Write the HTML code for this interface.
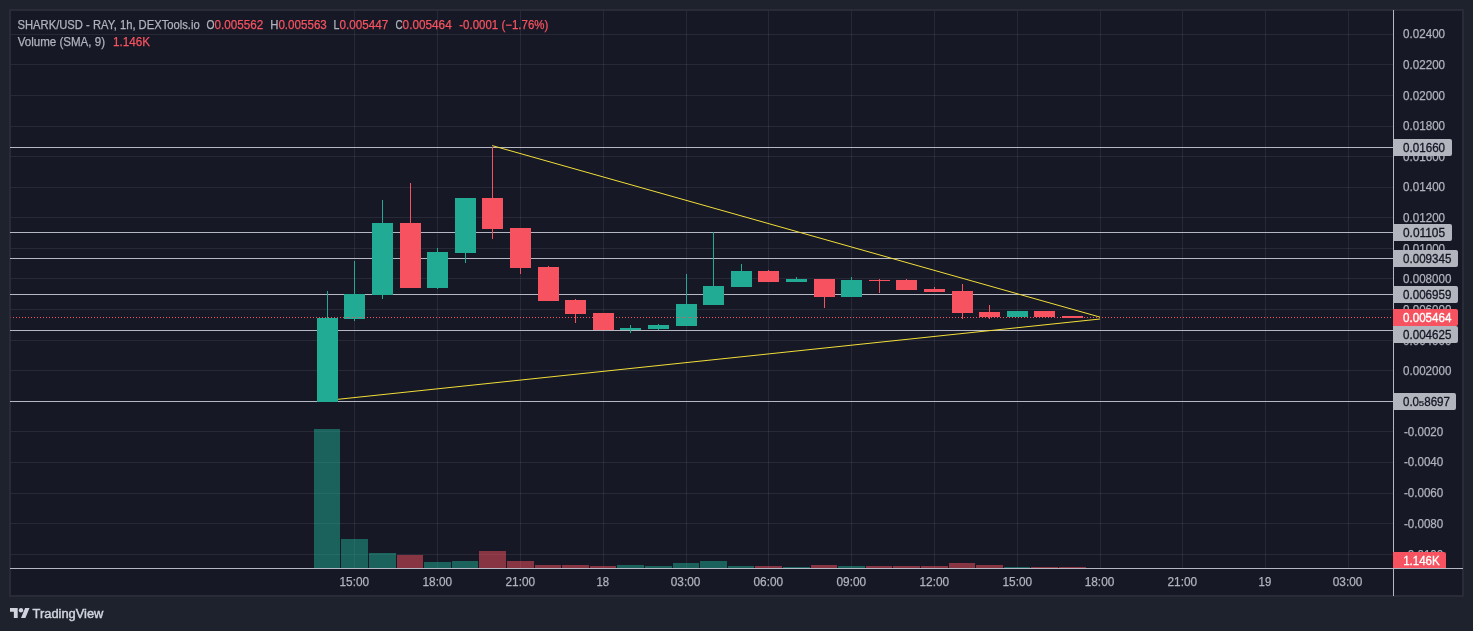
<!DOCTYPE html>
<html><head><meta charset="utf-8"><title>SHARK/USD chart</title>
<style>
html,body{margin:0;padding:0;background:#1e222d;}
body{width:1473px;height:631px;overflow:hidden;position:relative;font-family:"Liberation Sans",sans-serif;}
svg{position:absolute;left:0;top:0;display:block;will-change:transform;}
text{font-family:"Liberation Sans",sans-serif;font-size:12px;}
.t text{stroke:#b0b3bc;stroke-width:0.25px;}
.r{stroke:#f7525f;stroke-width:0.25px;}
.c{shape-rendering:crispEdges;}
</style></head><body>
<svg width="1473" height="631" viewBox="0 0 1473 631">
<g class="c">
<rect x="0" y="0" width="1473" height="631" fill="#1e222d"/>
<rect x="9" y="9" width="1455" height="588" fill="#292b36"/>
<rect x="11" y="11" width="1451" height="584" fill="#161925"/>
<rect x="354" y="11" width="1" height="557" fill="rgba(172,165,195,0.115)"/>
<rect x="437" y="11" width="1" height="557" fill="rgba(172,165,195,0.115)"/>
<rect x="520" y="11" width="1" height="557" fill="rgba(172,165,195,0.115)"/>
<rect x="603" y="11" width="1" height="557" fill="rgba(172,165,195,0.115)"/>
<rect x="686" y="11" width="1" height="557" fill="rgba(172,165,195,0.115)"/>
<rect x="768" y="11" width="1" height="557" fill="rgba(172,165,195,0.115)"/>
<rect x="851" y="11" width="1" height="557" fill="rgba(172,165,195,0.115)"/>
<rect x="934" y="11" width="1" height="557" fill="rgba(172,165,195,0.115)"/>
<rect x="1017" y="11" width="1" height="557" fill="rgba(172,165,195,0.115)"/>
<rect x="1100" y="11" width="1" height="557" fill="rgba(172,165,195,0.115)"/>
<rect x="1182" y="11" width="1" height="557" fill="rgba(172,165,195,0.115)"/>
<rect x="1265" y="11" width="1" height="557" fill="rgba(172,165,195,0.115)"/>
<rect x="1348" y="11" width="1" height="557" fill="rgba(172,165,195,0.115)"/>
<rect x="11" y="34" width="1382" height="1" fill="rgba(172,165,195,0.115)"/>
<rect x="11" y="64" width="1382" height="1" fill="rgba(172,165,195,0.115)"/>
<rect x="11" y="95" width="1382" height="1" fill="rgba(172,165,195,0.115)"/>
<rect x="11" y="126" width="1382" height="1" fill="rgba(172,165,195,0.115)"/>
<rect x="11" y="156" width="1382" height="1" fill="rgba(172,165,195,0.115)"/>
<rect x="11" y="187" width="1382" height="1" fill="rgba(172,165,195,0.115)"/>
<rect x="11" y="217" width="1382" height="1" fill="rgba(172,165,195,0.115)"/>
<rect x="11" y="248" width="1382" height="1" fill="rgba(172,165,195,0.115)"/>
<rect x="11" y="278" width="1382" height="1" fill="rgba(172,165,195,0.115)"/>
<rect x="11" y="309" width="1382" height="1" fill="rgba(172,165,195,0.115)"/>
<rect x="11" y="340" width="1382" height="1" fill="rgba(172,165,195,0.115)"/>
<rect x="11" y="370" width="1382" height="1" fill="rgba(172,165,195,0.115)"/>
<rect x="11" y="401" width="1382" height="1" fill="rgba(172,165,195,0.115)"/>
<rect x="11" y="431" width="1382" height="1" fill="rgba(172,165,195,0.115)"/>
<rect x="11" y="462" width="1382" height="1" fill="rgba(172,165,195,0.115)"/>
<rect x="11" y="493" width="1382" height="1" fill="rgba(172,165,195,0.115)"/>
<rect x="11" y="523" width="1382" height="1" fill="rgba(172,165,195,0.115)"/>
<rect x="11" y="554" width="1382" height="1" fill="rgba(172,165,195,0.115)"/>
<rect x="314" y="429" width="26" height="139" fill="rgba(34,171,148,0.5)"/>
<rect x="341" y="539" width="27" height="29" fill="rgba(34,171,148,0.5)"/>
<rect x="369" y="553" width="27" height="15" fill="rgba(34,171,148,0.5)"/>
<rect x="397" y="555" width="26" height="13" fill="rgba(247,82,95,0.5)"/>
<rect x="424" y="562" width="27" height="6" fill="rgba(34,171,148,0.5)"/>
<rect x="452" y="561" width="26" height="7" fill="rgba(34,171,148,0.5)"/>
<rect x="479" y="551" width="27" height="17" fill="rgba(247,82,95,0.5)"/>
<rect x="507" y="561" width="27" height="7" fill="rgba(247,82,95,0.5)"/>
<rect x="535" y="565" width="26" height="3" fill="rgba(247,82,95,0.5)"/>
<rect x="562" y="565" width="27" height="3" fill="rgba(247,82,95,0.5)"/>
<rect x="590" y="566" width="26" height="2" fill="rgba(247,82,95,0.5)"/>
<rect x="617" y="565" width="27" height="3" fill="rgba(34,171,148,0.5)"/>
<rect x="645" y="566" width="27" height="2" fill="rgba(34,171,148,0.5)"/>
<rect x="673" y="563" width="26" height="5" fill="rgba(34,171,148,0.5)"/>
<rect x="700" y="561" width="27" height="7" fill="rgba(34,171,148,0.5)"/>
<rect x="728" y="566" width="26" height="2" fill="rgba(34,171,148,0.5)"/>
<rect x="755" y="566" width="27" height="2" fill="rgba(247,82,95,0.5)"/>
<rect x="783" y="567" width="27" height="1" fill="rgba(34,171,148,0.5)"/>
<rect x="811" y="565" width="26" height="3" fill="rgba(247,82,95,0.5)"/>
<rect x="838" y="566" width="27" height="2" fill="rgba(34,171,148,0.5)"/>
<rect x="866" y="566" width="26" height="2" fill="rgba(247,82,95,0.5)"/>
<rect x="893" y="566" width="27" height="2" fill="rgba(247,82,95,0.5)"/>
<rect x="921" y="566" width="27" height="2" fill="rgba(247,82,95,0.5)"/>
<rect x="949" y="563" width="26" height="5" fill="rgba(247,82,95,0.5)"/>
<rect x="976" y="565" width="27" height="3" fill="rgba(247,82,95,0.5)"/>
<rect x="1004" y="567" width="26" height="1" fill="rgba(34,171,148,0.5)"/>
<rect x="1031" y="567" width="27" height="1" fill="rgba(247,82,95,0.5)"/>
<rect x="1059" y="567" width="27" height="1" fill="rgba(247,82,95,0.5)"/>
<rect x="10" y="147" width="1383" height="1" fill="#b5b8c2"/>
<rect x="10" y="232" width="1383" height="1" fill="#b5b8c2"/>
<rect x="10" y="258" width="1383" height="1" fill="#b5b8c2"/>
<rect x="10" y="294" width="1383" height="1" fill="#b5b8c2"/>
<rect x="10" y="330" width="1383" height="1" fill="#b5b8c2"/>
<rect x="10" y="401" width="1383" height="1" fill="#b5b8c2"/>
<rect x="327" y="291" width="1" height="111" fill="#22ab94"/>
<rect x="317" y="318" width="21" height="84" fill="#22ab94"/>
<rect x="354" y="261" width="1" height="60" fill="#22ab94"/>
<rect x="344" y="294" width="21" height="25" fill="#22ab94"/>
<rect x="382" y="200" width="1" height="99" fill="#22ab94"/>
<rect x="372" y="223" width="21" height="72" fill="#22ab94"/>
<rect x="410" y="183" width="1" height="105" fill="#f7525f"/>
<rect x="400" y="223" width="21" height="65" fill="#f7525f"/>
<rect x="437" y="248" width="1" height="41" fill="#22ab94"/>
<rect x="427" y="252" width="21" height="36" fill="#22ab94"/>
<rect x="465" y="198" width="1" height="65" fill="#22ab94"/>
<rect x="455" y="198" width="21" height="55" fill="#22ab94"/>
<rect x="492" y="147" width="1" height="92" fill="#f7525f"/>
<rect x="482" y="198" width="21" height="31" fill="#f7525f"/>
<rect x="520" y="228" width="1" height="46" fill="#f7525f"/>
<rect x="510" y="228" width="21" height="40" fill="#f7525f"/>
<rect x="548" y="266" width="1" height="35" fill="#f7525f"/>
<rect x="538" y="267" width="21" height="34" fill="#f7525f"/>
<rect x="575" y="299" width="1" height="24" fill="#f7525f"/>
<rect x="565" y="300" width="21" height="14" fill="#f7525f"/>
<rect x="603" y="313" width="1" height="17" fill="#f7525f"/>
<rect x="593" y="313" width="21" height="17" fill="#f7525f"/>
<rect x="630" y="325" width="1" height="8" fill="#22ab94"/>
<rect x="620" y="328" width="21" height="2" fill="#22ab94"/>
<rect x="658" y="324" width="1" height="6" fill="#22ab94"/>
<rect x="648" y="325" width="21" height="4" fill="#22ab94"/>
<rect x="686" y="274" width="1" height="52" fill="#22ab94"/>
<rect x="676" y="304" width="21" height="22" fill="#22ab94"/>
<rect x="713" y="232" width="1" height="73" fill="#22ab94"/>
<rect x="703" y="286" width="21" height="19" fill="#22ab94"/>
<rect x="741" y="264" width="1" height="23" fill="#22ab94"/>
<rect x="731" y="271" width="21" height="16" fill="#22ab94"/>
<rect x="768" y="270" width="1" height="12" fill="#f7525f"/>
<rect x="758" y="271" width="21" height="11" fill="#f7525f"/>
<rect x="796" y="277" width="1" height="5" fill="#22ab94"/>
<rect x="786" y="279" width="21" height="3" fill="#22ab94"/>
<rect x="824" y="279" width="1" height="29" fill="#f7525f"/>
<rect x="814" y="279" width="21" height="18" fill="#f7525f"/>
<rect x="851" y="277" width="1" height="20" fill="#22ab94"/>
<rect x="841" y="280" width="21" height="17" fill="#22ab94"/>
<rect x="879" y="279" width="1" height="14" fill="#f7525f"/>
<rect x="869" y="280" width="21" height="1" fill="#f7525f"/>
<rect x="906" y="279" width="1" height="11" fill="#f7525f"/>
<rect x="896" y="280" width="21" height="10" fill="#f7525f"/>
<rect x="934" y="287" width="1" height="5" fill="#f7525f"/>
<rect x="924" y="289" width="21" height="3" fill="#f7525f"/>
<rect x="962" y="284" width="1" height="35" fill="#f7525f"/>
<rect x="952" y="291" width="21" height="22" fill="#f7525f"/>
<rect x="989" y="305" width="1" height="14" fill="#f7525f"/>
<rect x="979" y="312" width="21" height="5" fill="#f7525f"/>
<rect x="1017" y="311" width="1" height="6" fill="#22ab94"/>
<rect x="1007" y="311" width="21" height="6" fill="#22ab94"/>
<rect x="1044" y="311" width="1" height="6" fill="#f7525f"/>
<rect x="1034" y="311" width="21" height="6" fill="#f7525f"/>
<rect x="1072" y="316" width="1" height="2" fill="#f7525f"/>
<rect x="1062" y="316" width="21" height="2" fill="#f7525f"/>
<line x1="13" y1="317.5" x2="1393" y2="317.5" stroke="#f7525f" stroke-width="1" stroke-dasharray="1 2"/>
<rect x="10" y="317" width="1" height="1" fill="#f7525f" fill-opacity="0.4"/>
</g>
<g fill="none" stroke="#f2de38" stroke-width="1" stroke-linecap="butt">
<line x1="492.1" y1="145.6" x2="1100" y2="317.1"/>
<line x1="338" y1="399.3" x2="1100" y2="319.0"/>
</g>
<g class="c">
<rect x="1393" y="10" width="1" height="586" fill="#b5b8c2"/>
<rect x="10" y="568" width="1453" height="1" fill="#b5b8c2"/>
</g>
<g class="t" fill="#b0b3bc">
<text x="1403.0" y="37.8" textLength="42.1" lengthAdjust="spacingAndGlyphs">0.02400</text>
<text x="1403.0" y="68.8" textLength="42.1" lengthAdjust="spacingAndGlyphs">0.02200</text>
<text x="1403.0" y="99.8" textLength="42.1" lengthAdjust="spacingAndGlyphs">0.02000</text>
<text x="1403.0" y="129.8" textLength="42.1" lengthAdjust="spacingAndGlyphs">0.01800</text>
<text x="1403.0" y="160.8" textLength="42.1" lengthAdjust="spacingAndGlyphs">0.01600</text>
<text x="1403.0" y="190.8" textLength="42.1" lengthAdjust="spacingAndGlyphs">0.01400</text>
<text x="1403.0" y="221.8" textLength="42.1" lengthAdjust="spacingAndGlyphs">0.01200</text>
<text x="1403.0" y="252.8" textLength="42.1" lengthAdjust="spacingAndGlyphs">0.01000</text>
<text x="1403.0" y="282.8" textLength="48.4" lengthAdjust="spacingAndGlyphs">0.008000</text>
<text x="1403.0" y="313.8" textLength="48.4" lengthAdjust="spacingAndGlyphs">0.006000</text>
<text x="1403.0" y="344.8" textLength="48.4" lengthAdjust="spacingAndGlyphs">0.004000</text>
<text x="1403.0" y="374.8" textLength="48.4" lengthAdjust="spacingAndGlyphs">0.002000</text>
<text x="1403.9" y="435.8" textLength="39.4" lengthAdjust="spacingAndGlyphs">-0.0020</text>
<text x="1403.9" y="465.8" textLength="39.4" lengthAdjust="spacingAndGlyphs">-0.0040</text>
<text x="1403.9" y="496.8" textLength="39.4" lengthAdjust="spacingAndGlyphs">-0.0060</text>
<text x="1403.9" y="527.8" textLength="39.4" lengthAdjust="spacingAndGlyphs">-0.0080</text>
<text x="1403.9" y="558.8" textLength="39.4" lengthAdjust="spacingAndGlyphs">-0.0100</text>
</g>
<g class="t" fill="#b0b3bc" text-anchor="middle">
<text x="354.3" y="586.2" textLength="29.6" lengthAdjust="spacingAndGlyphs">15:00</text>
<text x="437.3" y="586.2" textLength="29.6" lengthAdjust="spacingAndGlyphs">18:00</text>
<text x="520.3" y="586.2" textLength="29.6" lengthAdjust="spacingAndGlyphs">21:00</text>
<text x="602.7" y="586.2" textLength="12.6" lengthAdjust="spacingAndGlyphs">18</text>
<text x="685.6" y="586.2" textLength="29.6" lengthAdjust="spacingAndGlyphs">03:00</text>
<text x="768.3" y="586.2" textLength="29.6" lengthAdjust="spacingAndGlyphs">06:00</text>
<text x="851.3" y="586.2" textLength="29.6" lengthAdjust="spacingAndGlyphs">09:00</text>
<text x="934.3" y="586.2" textLength="29.6" lengthAdjust="spacingAndGlyphs">12:00</text>
<text x="1017.3" y="586.2" textLength="29.6" lengthAdjust="spacingAndGlyphs">15:00</text>
<text x="1099.5" y="586.2" textLength="29.6" lengthAdjust="spacingAndGlyphs">18:00</text>
<text x="1182.3" y="586.2" textLength="29.6" lengthAdjust="spacingAndGlyphs">21:00</text>
<text x="1264.9" y="586.2" textLength="12.6" lengthAdjust="spacingAndGlyphs">19</text>
<text x="1347.6" y="586.2" textLength="29.6" lengthAdjust="spacingAndGlyphs">03:00</text>
</g>
<path d="M1394 139 h56 a2 2 0 0 1 2 2 v13 a2 2 0 0 1 -2 2 h-56 z" fill="#b2b5be"/>
<text x="1403" y="151.8" fill="#131722" stroke="#131722" stroke-width="0.3" textLength="42.1" lengthAdjust="spacingAndGlyphs">0.01660</text>
<path d="M1394 224 h56 a2 2 0 0 1 2 2 v13 a2 2 0 0 1 -2 2 h-56 z" fill="#b2b5be"/>
<text x="1403" y="236.8" fill="#131722" stroke="#131722" stroke-width="0.3" textLength="42.1" lengthAdjust="spacingAndGlyphs">0.01105</text>
<path d="M1394 250 h62 a2 2 0 0 1 2 2 v13 a2 2 0 0 1 -2 2 h-62 z" fill="#b2b5be"/>
<text x="1403" y="262.8" fill="#131722" stroke="#131722" stroke-width="0.3" textLength="48.4" lengthAdjust="spacingAndGlyphs">0.009345</text>
<path d="M1394 286 h62 a2 2 0 0 1 2 2 v13 a2 2 0 0 1 -2 2 h-62 z" fill="#b2b5be"/>
<text x="1403" y="298.8" fill="#131722" stroke="#131722" stroke-width="0.3" textLength="48.4" lengthAdjust="spacingAndGlyphs">0.006959</text>
<path d="M1394 326 h62 a2 2 0 0 1 2 2 v13 a2 2 0 0 1 -2 2 h-62 z" fill="#b2b5be"/>
<text x="1403" y="338.8" fill="#131722" stroke="#131722" stroke-width="0.3" textLength="48.4" lengthAdjust="spacingAndGlyphs">0.004625</text>
<path d="M1394 393 h60 a2 2 0 0 1 2 2 v13 a2 2 0 0 1 -2 2 h-60 z" fill="#b2b5be"/>
<text x="1403" y="405.8" fill="#131722" stroke="#131722" stroke-width="0.3" textLength="16.0" lengthAdjust="spacingAndGlyphs">0.0</text>
<text x="1418.7" y="405.7" fill="#131722" style="font-size:7.4px" stroke="#131722" stroke-width="0.2" textLength="5.4" lengthAdjust="spacingAndGlyphs">5</text>
<text x="1424.2" y="405.8" fill="#131722" stroke="#131722" stroke-width="0.3" textLength="25.8" lengthAdjust="spacingAndGlyphs">8697</text>
<path d="M1393 309 h63 a2 2 0 0 1 2 2 v13 a2 2 0 0 1 -2 2 h-63 z" fill="#f7525f"/>
<text x="1403" y="321.8" fill="#ffffff" stroke="#ffffff" stroke-width="0.35" textLength="48.4" lengthAdjust="spacingAndGlyphs">0.005464</text>
<path d="M1393 552 h51 a2 2 0 0 1 2 2 v14 h-53 z" fill="#f7525f"/>
<text x="1403.2" y="564.8" fill="#ffffff" stroke="#ffffff" stroke-width="0.3" textLength="36.5" lengthAdjust="spacingAndGlyphs">1.146K</text>
<text x="17.5" y="29.1" fill="#b0b3bc" stroke="#b0b3bc" stroke-width="0.25" textLength="182.2" lengthAdjust="spacingAndGlyphs">SHARK/USD - RAY, 1h, DEXTools.io</text>
<text x="206.6" y="29.1" fill="#b0b3bc" stroke="#b0b3bc" stroke-width="0.25" textLength="8.0" lengthAdjust="spacingAndGlyphs">O</text>
<text x="214.6" y="29.1" fill="#f7525f" stroke="#f7525f" stroke-width="0.25" textLength="48.7" lengthAdjust="spacingAndGlyphs">0.005562</text>
<text x="270.2" y="29.1" fill="#b0b3bc" stroke="#b0b3bc" stroke-width="0.25" textLength="8.2" lengthAdjust="spacingAndGlyphs">H</text>
<text x="278.4" y="29.1" fill="#f7525f" stroke="#f7525f" stroke-width="0.25" textLength="48.4" lengthAdjust="spacingAndGlyphs">0.005563</text>
<text x="333.6" y="29.1" fill="#b0b3bc" stroke="#b0b3bc" stroke-width="0.25" textLength="5.9" lengthAdjust="spacingAndGlyphs">L</text>
<text x="339.5" y="29.1" fill="#f7525f" stroke="#f7525f" stroke-width="0.25" textLength="48.7" lengthAdjust="spacingAndGlyphs">0.005447</text>
<text x="395.4" y="29.1" fill="#b0b3bc" stroke="#b0b3bc" stroke-width="0.25" textLength="7.2" lengthAdjust="spacingAndGlyphs">C</text>
<text x="402.6" y="29.1" fill="#f7525f" stroke="#f7525f" stroke-width="0.25" textLength="49.1" lengthAdjust="spacingAndGlyphs">0.005464</text>
<text x="459.3" y="29.1" fill="#f7525f" stroke="#f7525f" stroke-width="0.25" textLength="89.0" lengthAdjust="spacingAndGlyphs">-0.0001 (−1.76%)</text>
<text x="17.7" y="46.2" fill="#b0b3bc" stroke="#b0b3bc" stroke-width="0.25" textLength="87.3" lengthAdjust="spacingAndGlyphs">Volume (SMA, 9)</text>
<text x="113.0" y="46.2" fill="#f7525f" stroke="#f7525f" stroke-width="0.25" textLength="37.0" lengthAdjust="spacingAndGlyphs">1.146K</text>
<g transform="translate(10,605.8) scale(0.55)" fill="#d1d4dc"><path d="M14 22H7V11H0V4h14v18zM28 22h-8l7.5-18h8L28 22z"/><circle cx="20" cy="8" r="4"/></g>
<text x="32.6" y="617.6" fill="#d1d4dc" stroke="#d1d4dc" stroke-width="0.45" textLength="70.8" lengthAdjust="spacingAndGlyphs" style="font-size:12.5px">TradingView</text>
</svg>
</body></html>
